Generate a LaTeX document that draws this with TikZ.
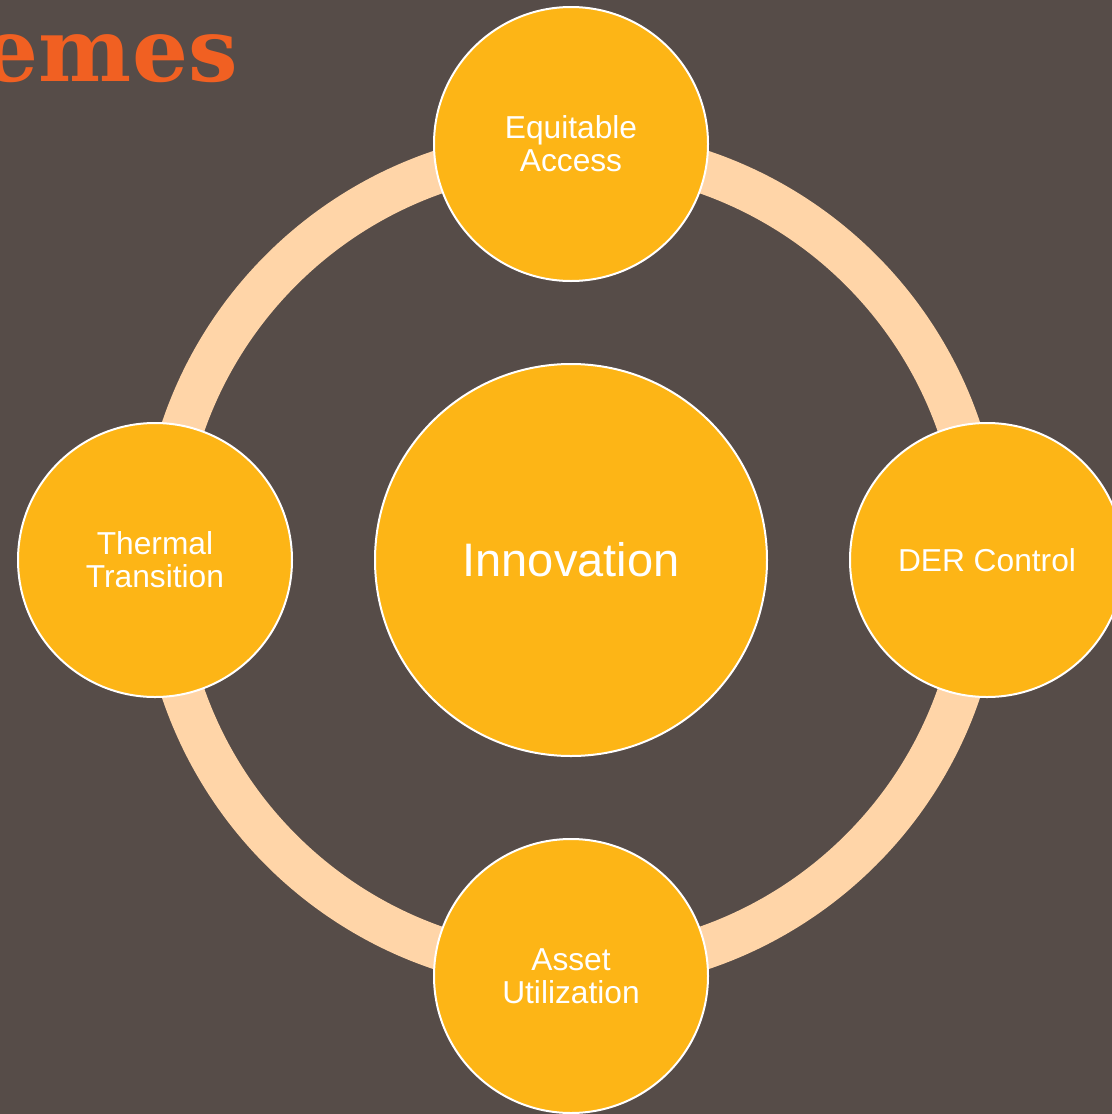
\documentclass[tikz,border=0pt]{standalone}
\usepackage{fontspec}
\setmainfont{Liberation Sans}
\newfontfamily\titlefont{DejaVu Serif}
\usetikzlibrary{shapes, positioning}
\definecolor{slate}{RGB}{86,76,72}
\definecolor{gold}{RGB}{253,181,22}
\definecolor{peach}{RGB}{255,213,168}
\definecolor{rust}{RGB}{241,96,34}
\begin{document}
\begin{tikzpicture}[x=0.5pt, y=-0.5pt, node distance = 208pt]
\tikzstyle{theme}=[circle, draw=white, line width=1pt, fill=gold, text=white, minimum size=137pt, inner sep=0pt, align=center, font=\fontsize{15.85}{16.5}\selectfont]
\tikzstyle{hub}=[theme, minimum size=196pt, font=\fontsize{23.5}{26}\selectfont]
\tikzstyle{ring}=[draw=peach, line width=21.5pt]

% backdrop
\fill[slate] (0,0) rectangle (1112,1114);
\useasboundingbox (0,0) rectangle (1112,1114);

\node[anchor=base east, text=rust, inner sep=0pt, font=\titlefont\bfseries\fontsize{44}{44}\selectfont] (title) at (238,81) {emes};

\coordinate (mid) at (571,560);
\draw[ring] (mid) circle (410);

\node[hub]    		(inn) at (mid)   {Innovation};
\node[theme]    	(eq)[above of=inn]   {Equitable\\Access};
\node[theme]    	(der)[right of=inn]   {DER Control};
\node[theme]    	(asset)[below of=inn]   {Asset\\Utilization};
\node[theme]    	(therm)[left of=inn]   {Thermal\\Transition};

\end{tikzpicture}
\end{document}
